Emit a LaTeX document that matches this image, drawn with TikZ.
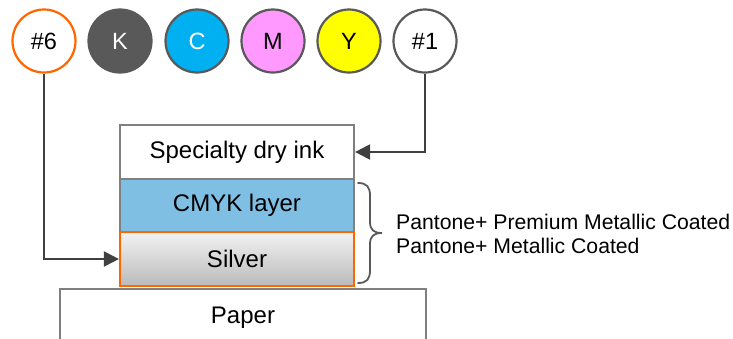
\documentclass[tikz,border=0pt]{standalone}
\usepackage{fontspec}
\setmainfont{Liberation Sans}
\usetikzlibrary{arrows.meta}
\definecolor{circgray}{HTML}{595959}
\definecolor{boxgray}{HTML}{808080}
\definecolor{orng}{HTML}{FF6600}
\definecolor{cyanc}{HTML}{00B0F0}
\definecolor{magc}{HTML}{FF99FF}
\definecolor{yelc}{HTML}{FFFF00}
\definecolor{cmykfill}{HTML}{7FBFE4}
\definecolor{arrgray}{HTML}{404040}
\begin{document}
\begin{tikzpicture}[x=1pt,y=-1pt,
  ink/.style={circle,draw=circgray,line width=2.2pt,minimum size=63pt,inner sep=0pt,
    font=\fontsize{23.5}{26}\selectfont},
  layer/.style={draw=boxgray,line width=2.2pt,minimum width=234pt,minimum height=53.5pt,
    inner sep=0pt,font=\fontsize{24}{27}\selectfont},
  conn/.style={draw=arrgray,line width=2.2pt,-{Triangle[width=15pt,length=15pt]}},
  note/.style={anchor=base west,inner sep=0pt,font=\fontsize{21.2}{24}\selectfont}]
\clip (0,0) rectangle (733,338);
\fill[white] (0,0) rectangle (733,338);
% ink circles
\node[ink,draw=orng] (c6) at (44,41) {\#6};
\node[ink,fill=circgray,text=white] (ck) at (120,41) {K};
\node[ink,fill=cyanc,text=white] (cc) at (197,41) {C};
\node[ink,fill=magc] (cm) at (273,41) {M};
\node[ink,fill=yelc] (cy) at (349,41) {Y};
\node[ink] (c1) at (425,41) {\#1};
% layers
\node[layer,minimum width=366pt,minimum height=58pt] (paper) at (243,318) {Paper};
\node[layer] (spec) at (237,152) {Specialty dry ink};
\node[layer,fill=cmykfill] (cmyk) at (237,205.5) {CMYK layer};
\node[layer,draw=orng,top color=white!95!black,bottom color=white!73!black] (silver) at (237,259) {Silver};
% connectors
\draw[conn] (c6.south) |- (silver.west);
\draw[conn] (c1.south) |- (spec.east);
% brace
\draw[draw=circgray,line width=1.8pt,line cap=round]
  (358,183) .. controls (367,183) and (370,187) .. (370,196)
  -- (370,222) .. controls (370,230) and (374,233) .. (382,233)
  .. controls (374,233) and (370,236) .. (370,244)
  -- (370,270) .. controls (370,279) and (367,283) .. (358,283);
\node[note] (n1) at (396,229) {Pantone+ Premium Metallic Coated};
\node[note] (n2) at (396,253) {Pantone+ Metallic Coated};
\end{tikzpicture}
\end{document}
